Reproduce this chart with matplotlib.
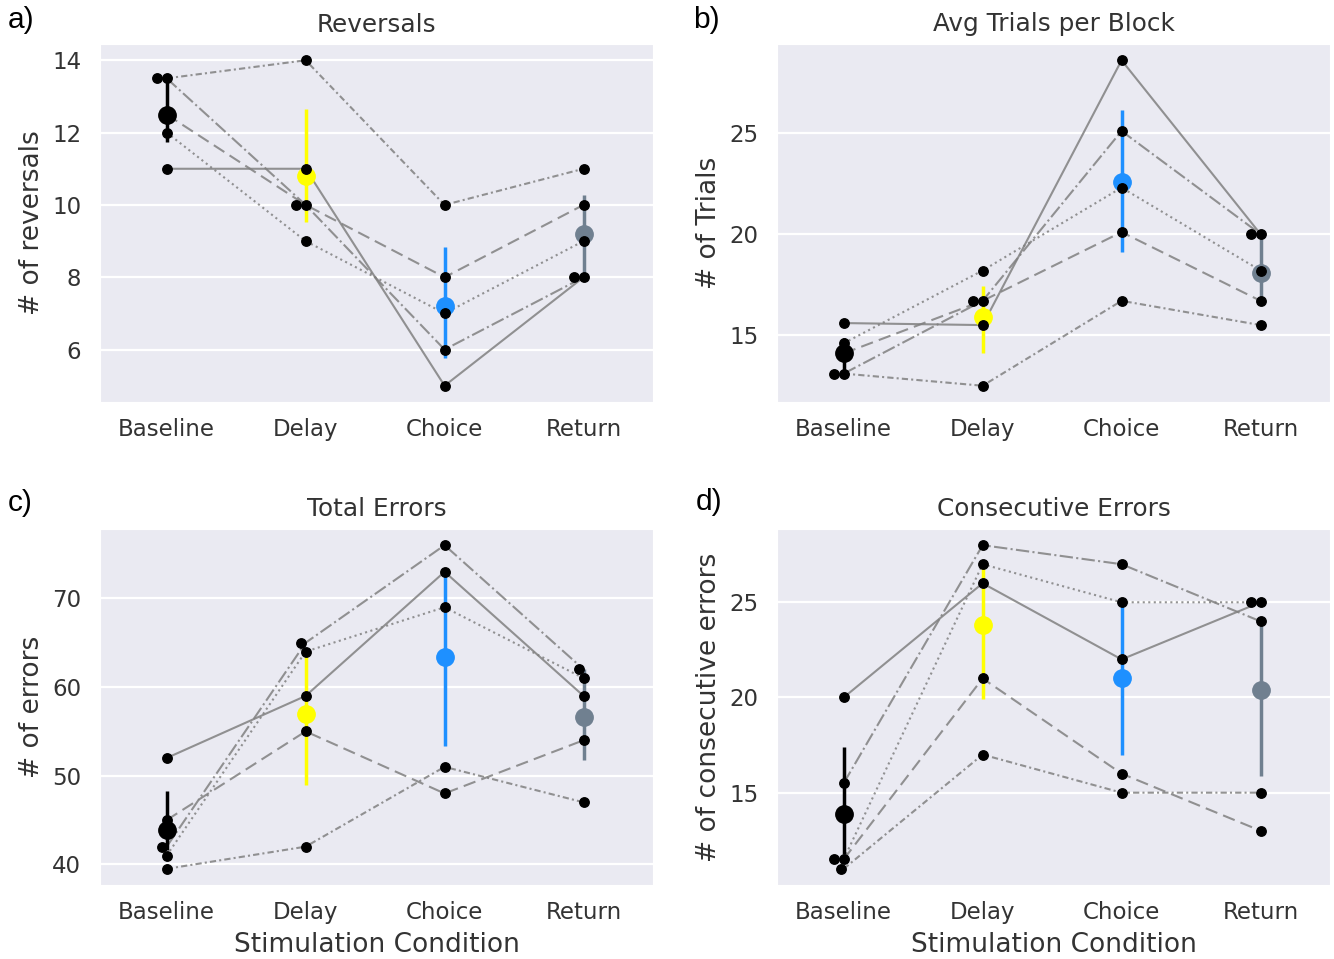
import numpy as np
import matplotlib.pyplot as plt
import seaborn as sns

conditions = ['Baseline', 'Delay', 'Choice', 'Return']

# one row per animal, columns follow the conditions
reversals = [[11, 11, 5, 8],
             [12, 9, 7, 9],
             [12.5, 10, 8, 10],
             [13.5, 10, 6, 8],
             [13.5, 14, 10, 11]]
trials_per_block = [[15.6, 15.5, 28.6, 20],
                    [14.6, 18.2, 22.3, 18.2],
                    [14.1, 16.7, 20.1, 16.7],
                    [13.1, 16.7, 25.1, 20],
                    [13.1, 12.5, 16.7, 15.5]]
total_errors = [[52, 59, 73, 59],
                [41, 64, 69, 61],
                [45, 55, 48, 54],
                [42, 65, 76, 62],
                [39.5, 42, 51, 47]]
consec_errors = [[20, 26, 22, 25],
                 [11.5, 27, 25, 25],
                 [11.5, 21, 16, 13],
                 [15.5, 28, 27, 24],
                 [11, 17, 15, 15]]

# 95% CI of the mean
reversals_ci_low = [11.73, 9.53, 5.77, 7.97]
reversals_ci_high = [13.61, 12.65, 8.83, 10.27]
trials_ci_low = [13.22, 14.1, 19.1, 16.7]
trials_ci_high = [14.84, 17.45, 26.16, 20.1]
errors_ci_low = [41.6, 48.9, 53.4, 51.8]
errors_ci_high = [48.3, 64.1, 73.0, 62.0]
consec_ci_low = [11.8, 19.9, 16.98, 15.86]
consec_ci_high = [17.42, 26.8, 24.9, 24.2]

panels = [
    ('a)', 'Reversals', '# of reversals', reversals, reversals_ci_low, reversals_ci_high, [6, 8, 10, 12, 14]),
    ('b)', 'Avg Trials per Block', '# of Trials', trials_per_block, trials_ci_low, trials_ci_high, [15, 20, 25]),
    ('c)', 'Total Errors', '# of errors', total_errors, errors_ci_low, errors_ci_high, [40, 50, 60, 70]),
    ('d)', 'Consecutive Errors', '# of consecutive errors', consec_errors, consec_ci_low, consec_ci_high, [15, 20, 25]),
]

mean_colors = ['black', 'yellow', 'dodgerblue', 'slategray']
line_styles = ['-', ':', (0, (6, 3)), '-.', (0, (3, 1.5, 1, 1.5))]

sns.set_style('darkgrid')
plt.rcParams['font.family'] = ['DejaVu Sans']

W, H = 1334, 959
rects = [(100, 44), (777, 44), (100, 529), (777, 529)]
heights = [358, 358, 356, 356]
letter_pos = [(8, 20), (693, 20), (8, 503), (696, 502)]

fig = plt.figure(figsize=(W / 100, H / 100), dpi=100)


def place_dots(ax, xc, vals, diam=10.0):
    # simple swarm: shift overlapping dots sideways, left first
    t = ax.transData
    px_per_x = t.transform((1, 0))[0] - t.transform((0, 0))[0]
    placed = []
    xs = []
    for v in vals:
        y = t.transform((xc, v))[1]
        cands = [0.0]
        for qx, qy in placed:
            dy = abs(y - qy)
            if dy < diam:
                dx = np.sqrt(diam ** 2 - dy ** 2)
                cands += [qx - dx, qx + dx]
        cands.sort(key=lambda c: (round(abs(c), 3), c))
        for c in cands:
            if all(np.hypot(c - qx, y - qy) >= diam - 1e-6 for qx, qy in placed):
                break
        placed.append((c, y))
        xs.append(xc + c / px_per_x)
    return xs


for i, (letter, title, ylabel, data, lo, hi, yticks) in enumerate(panels):
    x0, y0 = rects[i]
    h = heights[i]
    ax = fig.add_axes([x0 / W, (H - y0 - h) / H, 553 / W, h / H])
    data = np.array(data, dtype=float)
    xpos = np.arange(len(conditions))

    for j, row in enumerate(data):
        ax.plot(xpos, row, color='grey', alpha=0.85, lw=1.5, ls=line_styles[j], zorder=2)

    means = data.mean(axis=0)
    for k in range(len(conditions)):
        ax.vlines(k, lo[k], hi[k], color=mean_colors[k], lw=2.5, zorder=3)
        ax.plot(k, means[k], 'o', ms=12.5, color=mean_colors[k], zorder=3)

    ax.set_xlim(-0.48, 3.5)
    ax.set_ylim(ax.get_ylim())
    for k in range(len(conditions)):
        xs = place_dots(ax, k, data[:, k])
        ax.plot(xs, data[:, k], 'o', ms=6.8, color='black', ls='none', zorder=4)

    ax.grid(axis='x', visible=False)
    ax.grid(axis='y', color='white', lw=1.6)
    ax.set_xticks(xpos)
    ax.set_xticklabels(conditions)
    ax.set_yticks(yticks)
    ax.tick_params(axis='x', labelsize=16.5, pad=8, colors='.2')
    ax.tick_params(axis='y', labelsize=16.5, pad=10, colors='.2')
    ax.set_title(title, fontsize=17.8, pad=9, color='.2')
    ax.set_ylabel(ylabel, fontsize=19, labelpad=5, color='.2')
    if i >= 2:
        ax.set_xlabel('Stimulation Condition', fontsize=19, labelpad=6, color='.2')

    lx, ly = letter_pos[i]
    fig.text(lx / W, 1 - ly / H, letter, fontsize=21.5, family='Liberation Sans',
             ha='left', va='center', color='black')

fig.savefig('out.png', dpi=100)
